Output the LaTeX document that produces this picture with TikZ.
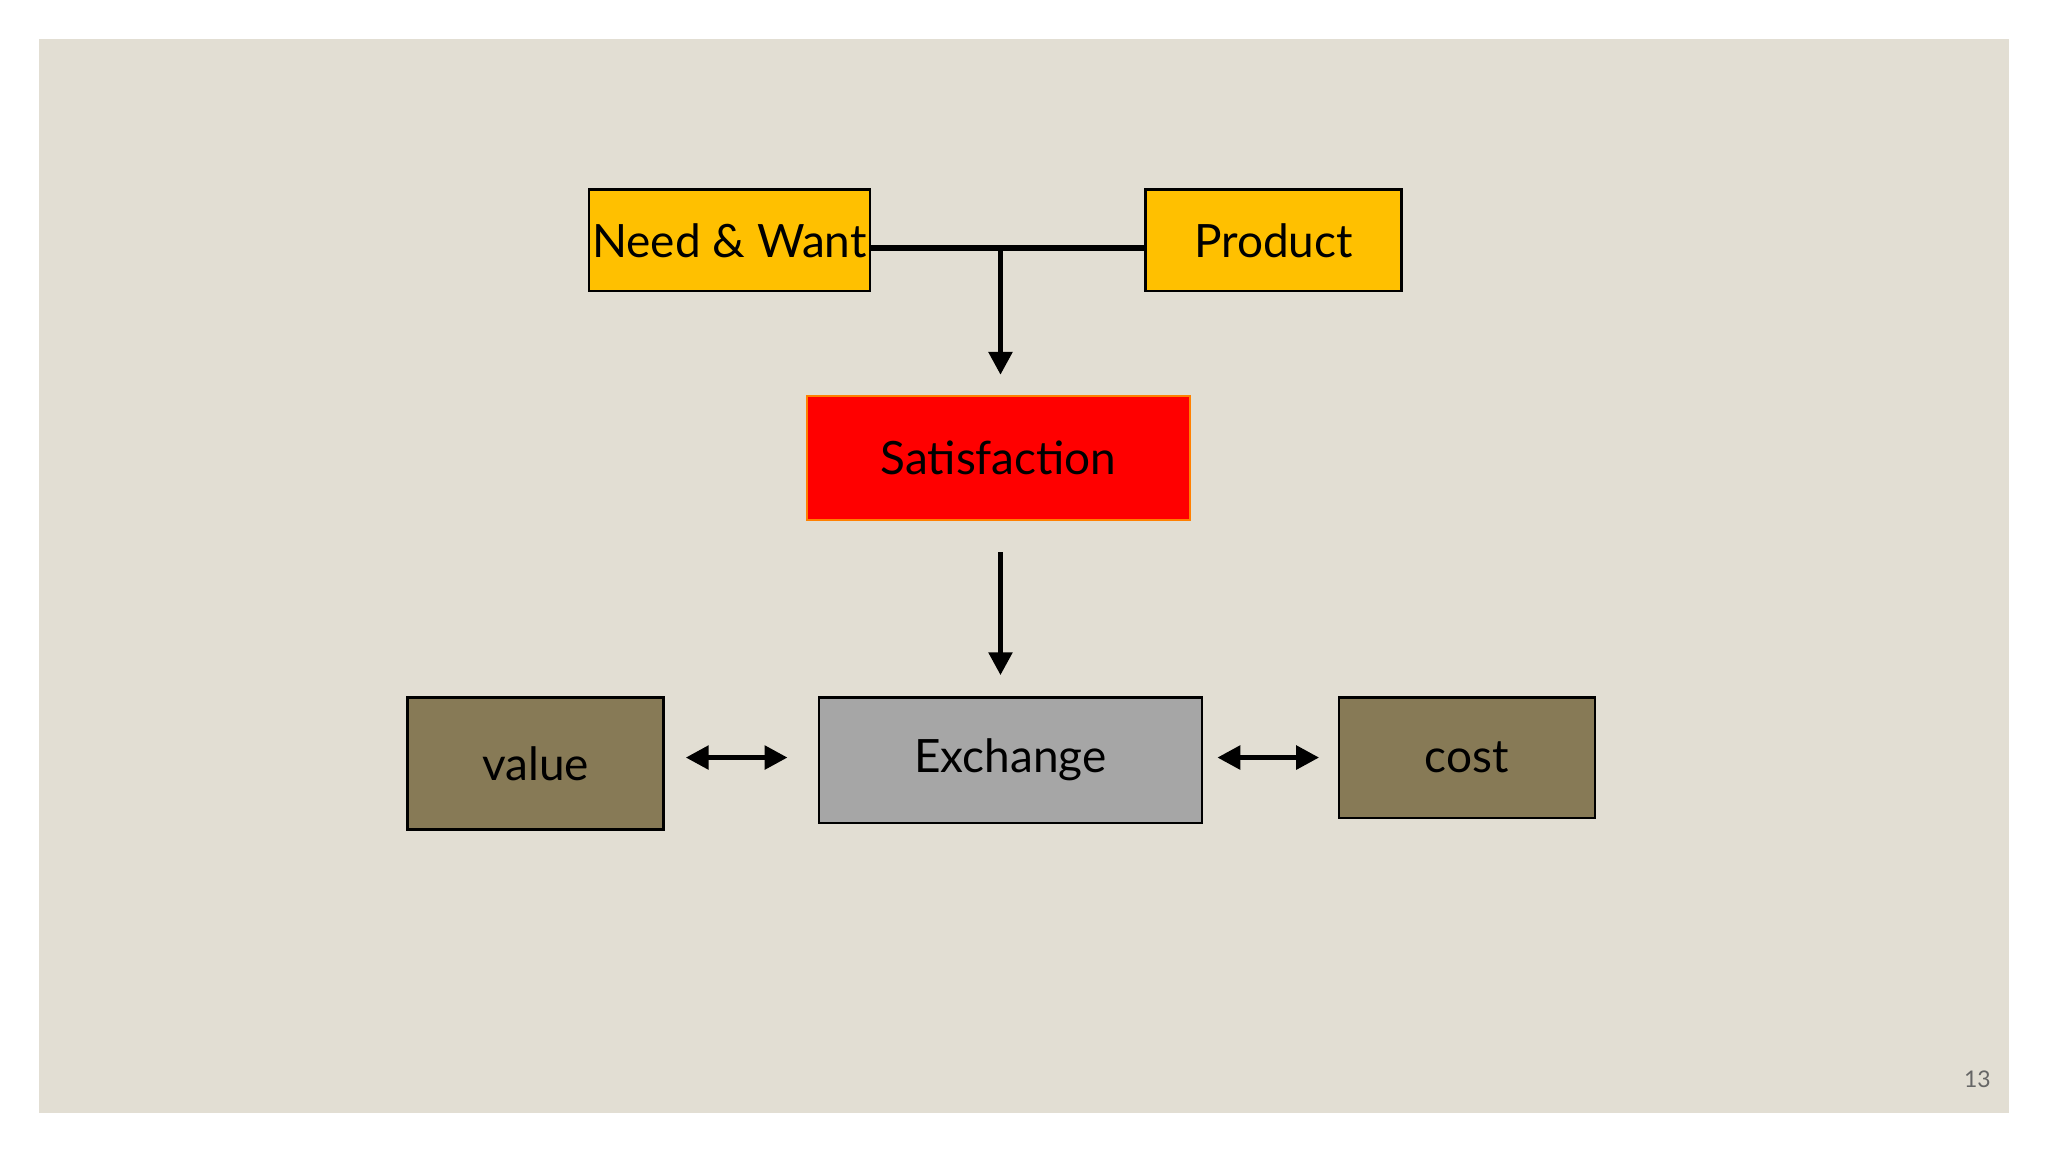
\documentclass[tikz,border=0pt]{standalone}
\usepackage{fontspec}
\setmainfont{Lato}
\usetikzlibrary{arrows.meta}
\definecolor{bg}{HTML}{E2DED3}
\definecolor{gold}{HTML}{FFC000}
\definecolor{olive}{HTML}{877A56}
\begin{document}
\begin{tikzpicture}[x=0.01cm,y=-0.01cm,
 box/.style={draw=black,line width=0.5pt,inner sep=0pt,font=\fontsize{10}{12}\selectfont},
 con/.style={line width=1.2pt},
 arr/.style={con,-{Triangle[length=5pt,width=5pt]}},
 darr/.style={con,{Triangle[length=5pt,width=5pt]}-{Triangle[length=5pt,width=5pt]}}]
\useasboundingbox (0,0) rectangle (1568,882);
\fill[white] (0,0) rectangle (1568,882);
\fill[bg] (30,30) rectangle (1538,852);
\node[box,fill=gold,minimum width=2.15cm,minimum height=0.78cm] (nw) at (558.5,184) {Need \& Want};
\node[box,fill=gold,minimum width=1.96cm,minimum height=0.78cm] (pr) at (975,184) {Product};
\node[box,draw=orange,fill=red,minimum width=2.93cm,minimum height=0.95cm] (sat) at (764.5,350.5) {Satisfaction};
\node[box,fill=gray!70,minimum width=2.93cm,minimum height=0.96cm] (ex) at (773.5,582) {Exchange};
\node[box,fill=olive,minimum width=1.96cm,minimum height=1.01cm] (val) at (410,584.5) {value};
\node[box,fill=olive,minimum width=1.96cm,minimum height=0.92cm] (cost) at (1123,580) {cost};
\coordinate (j) at (766,190);
\coordinate (a1) at (766,287);
\coordinate (b0) at (766,423);
\coordinate (b1) at (766,517);
\coordinate (v0) at (525,580); \coordinate (v1) at (603,580);
\coordinate (c0) at (932,580); \coordinate (c1) at (1010,580);
\draw[con] (nw.east |- j) -- (pr.west |- j);
\draw[arr] (j) -- (a1);
\draw[arr] (b0) -- (b1);
\draw[darr] (v0) -- (v1);
\draw[darr] (c0) -- (c1);
\node[text=gray!80!black,font=\fontsize{5}{6}\selectfont] (pg) at (1514,826) {13};
\end{tikzpicture}
\end{document}
